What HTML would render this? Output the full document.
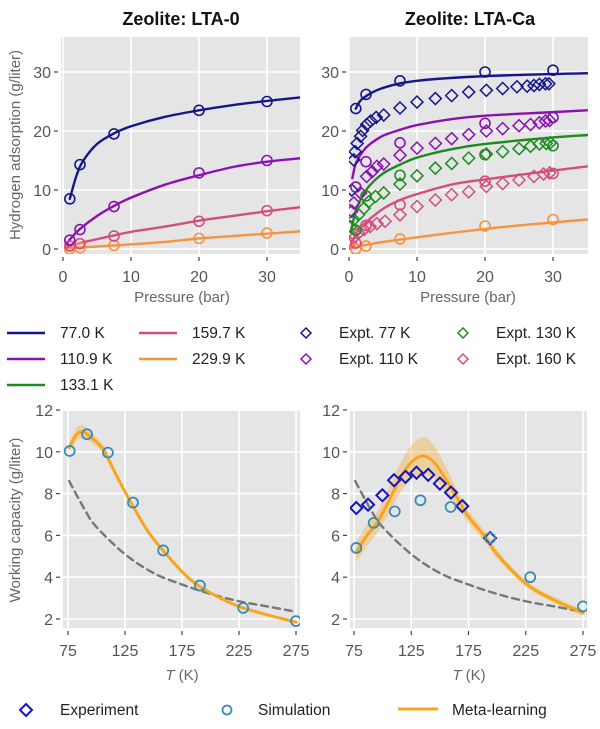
<!DOCTYPE html>
<html><head><meta charset="utf-8"><style>
body{margin:0;background:#fff;}
svg{display:block;font-family:"Liberation Sans",Arial,sans-serif;}
.tk{font-size:16px;fill:#555;}
.ax{font-size:15px;fill:#666;}
.lg{font-size:15.5px;fill:#222;}
</style></head><body>
<svg id="c" width="600" height="729" viewBox="0 0 600 729"></svg>
<script>
// ---------- data ----------
const simP = [1, 2.5, 7.5, 20, 30];
const lta0Sim77 = [8.5, 14.3, 19.5, 23.5, 25.0];
const lta0Sim111 = [1.5, 3.3, 7.2, 12.9, 15.0];
const lta0Sim160 = [0.5, 0.9, 2.2, 4.7, 6.5];
const lta0Sim230 = [0.0, 0.2, 0.6, 1.8, 2.7];
const lta0Curve77 = [[1,8.5],[2,12.5],[3,15],[5,17.8],[7.5,19.6],[10,20.8],[15,22.4],[20,23.5],[25,24.4],[30,25.1],[35,25.7]];
const lta0Curve111 = [[0.5,0.8],[1,1.6],[2.5,3.4],[5,5.6],[7.5,7.3],[10,8.7],[15,10.9],[20,12.5],[25,13.9],[30,14.8],[35,15.4]];
const lta0Curve160 = [[0.5,0.3],[2.5,1.0],[7.5,2.3],[10,2.9],[15,3.8],[20,4.8],[25,5.6],[30,6.4],[35,7.1]];
const lta0Curve230 = [[0.5,0.1],[7.5,0.6],[15,1.2],[20,1.8],[25,2.2],[30,2.6],[35,3.0]];

const caSim77 = [23.8, 26.2, 28.5, 30.0, 30.3];
const caSim110 = [10.5, 14.8, 18.0, 21.3, 22.3];
const caSim130 = [3.2, 9.0, 12.5, 16.0, 17.5];
const caSim160 = [1.0, 4.0, 7.5, 11.5, 12.8];
const caSim230 = [0.0, 0.5, 1.7, 3.9, 5.0];
const caCurve77 = [[1,23.8],[2,25.5],[5,27.3],[10,28.5],[20,29.3],[35,29.8]];
const caCurve110 = [[0.5,12],[1,14.5],[2,16.5],[3,17.7],[5,19.2],[7.5,20.2],[10,21],[15,22],[20,22.6],[30,23.2],[35,23.5]];
const caCurve130 = [[0.3,3],[1,6.5],[2,9],[3,10.7],[5,12.8],[7.5,14.3],[10,15.5],[15,16.9],[20,17.8],[30,18.9],[35,19.3]];
const caCurve160 = [[0.2,0.5],[1,2.5],[2,4],[5,6.8],[7.5,8.3],[10,9.3],[15,10.9],[20,11.8],[30,13.3],[35,14]];
const caCurve230 = [[0,0],[2.5,0.7],[7.5,1.6],[20,3.4],[30,4.5],[35,5]];
const expt77 = [[0.4,10],[0.7,15.1],[0.9,16.5],[1.2,17.9],[1.7,19.1],[2,20.1],[2.6,21.1],[3.2,21.7],[4,22.3],[5.1,22.7],[7.5,23.9],[10,24.9],[12.7,25.5],[15.1,26],[17.6,26.6],[20.2,26.9],[22.6,27.2],[24.7,27.5],[26.2,27.6],[27.2,27.7],[28,27.9],[28.9,28],[29.4,28]];
const expt110 = [[0.4,6.4],[0.7,7.8],[1.7,9.5],[2.6,12.3],[3.4,13.1],[4.1,14],[5.1,14.4],[7.5,15.9],[10,17.1],[12.7,17.9],[15.1,18.7],[17.6,19.4],[20.2,20],[22.6,20.4],[25,20.9],[26.7,21.1],[28,21.4],[28.9,21.7],[29.5,21.8]];
const expt130 = [[0.2,3.8],[0.7,5],[1.4,5.8],[2.2,6.9],[2.9,8],[3.9,8.9],[5.1,9.5],[7.5,11],[10,12.4],[12.7,13.7],[15.1,14.5],[17.6,15.4],[20.2,16.1],[22.6,16.5],[25,17],[26.7,17.4],[28,17.8],[29,17.9],[29.6,18]];
const expt160 = [[0.2,1],[0.7,1.9],[1.4,2.7],[2.2,3.3],[3.1,3.8],[4.1,4.3],[5.3,4.7],[7.5,5.8],[10,7.2],[12.7,8.3],[15.1,9.2],[17.6,9.7],[20.2,10.6],[22.6,11.1],[25,11.7],[27.2,12.3],[28.6,12.7],[29.5,12.9]];

const wcSimL = [[76.5,10.04],[91.7,10.84],[110,9.96],[132,7.57],[158.5,5.28],[190.7,3.6],[228.7,2.53],[275,1.9]];
const wcMetaL = [[76,10.2],[82,10.8],[88,10.95],[95,10.7],[105,10.2],[110,9.7],[120,8.6],[132,7.4],[145,6.2],[158,5.3],[180,4.0],[200,3.25],[225,2.6],[250,2.2],[275,1.85]];
const wcBandL = [0.2,0.3,0.3,0.25,0.2,0.15,0.15,0.1,0.1,0.1,0.1,0.05,0.05,0.05,0.05];
const wcDash = [[76,8.6],[90,7.2],[100,6.4],[125,5.1],[150,4.2],[175,3.65],[200,3.2],[225,2.85],[250,2.6],[275,2.35]];
const wcExpR = [[77,7.31],[87.3,7.47],[99.8,7.92],[110,8.64],[120,8.8],[129.6,9.0],[139.8,8.9],[150,8.48],[159.7,8.05],[169.6,7.4],[193.8,5.87]];
const wcSimR = [[77,5.4],[92.2,6.6],[110.6,7.15],[133,7.68],[159.4,7.36],[193.8,5.87],[228.9,4.0],[275,2.6]];
const wcMetaR = [[77,5.2],[85,5.9],[95,6.6],[105,7.6],[115,8.7],[125,9.5],[135,9.8],[145,9.5],[155,8.7],[165,7.8],[175,6.9],[190,5.9],[200,5.1],[225,3.7],[250,2.9],[275,2.3]];
const wcBandR = [0.5,0.5,0.5,0.6,0.7,0.8,0.9,0.8,0.6,0.4,0.3,0.25,0.2,0.15,0.15,0.15];
const pTicks = [0,10,20,30];
const qTicks = [0,10,20,30];
const tTicks = [75,125,175,225,275];
const wTicks = [2,4,6,8,10,12];

const C77='#16168a',C110='#8a12b2',C130='#1f8a1f',C160='#d24f7c',C230='#f7923f',META='#f7a51c',SIM='#3b8bb8';
// ---------- helpers ----------
const svg=document.getElementById('c');const NS='http://www.w3.org/2000/svg';
function mk(tag,attrs,parent,name){const e=document.createElementNS(NS,tag);for(const k in attrs)e.setAttribute(k,attrs[k]);


(parent||svg).appendChild(e);return e;}
function smooth(pts){if(pts.length<2)return '';let d='M'+pts[0][0]+','+pts[0][1];
for(let i=0;i<pts.length-1;i++){const p0=pts[i-1]||pts[i],p1=pts[i],p2=pts[i+1],p3=pts[i+2]||p2;
const c1x=p1[0]+(p2[0]-p0[0])/6,c1y=p1[1]+(p2[1]-p0[1])/6,c2x=p2[0]-(p3[0]-p1[0])/6,c2y=p2[1]-(p3[1]-p1[1])/6;
d+=' C'+c1x+','+c1y+' '+c2x+','+c2y+' '+p2[0]+','+p2[1];}return d;}
function panel(o){
  const g=mk('g',{},svg,o.name);
  const sx=v=>o.x0+(v-o.xd[0])/(o.xd[1]-o.xd[0])*(o.x1-o.x0);
  const sy=v=>o.y0-(v-o.yd[0])/(o.yd[1]-o.yd[0])*(o.y0-o.y1);
  mk('rect',{x:o.L,y:o.T,width:o.R-o.L,height:o.B-o.T,fill:'#e5e5e5'},g,'plot-background');
  o.xt.forEach(t=>{mk('line',{x1:sx(t),x2:sx(t),y1:o.T,y2:o.B,stroke:'#fff','stroke-width':1.6},g,'x-gridline');
    mk('line',{x1:sx(t),x2:sx(t),y1:o.B+3,y2:o.B+7,stroke:'#444','stroke-width':1.2},g,'x-tick');
    const tx=mk('text',{x:sx(t),y:o.B+28,'text-anchor':'middle',class:'tk'},g,'x-tick-label');tx.textContent=t;});
  o.yt.forEach(t=>{mk('line',{x1:o.L,x2:o.R,y1:sy(t),y2:sy(t),stroke:'#fff','stroke-width':1.6},g,'y-gridline');
    mk('line',{x1:o.L-7,x2:o.L-3,y1:sy(t),y2:sy(t),stroke:'#444','stroke-width':1.2},g,'y-tick');
    const tx=mk('text',{x:o.L-10,y:sy(t)+6,'text-anchor':'end',class:'tk'},g,'y-tick-label');tx.textContent=t;});
  const cp=mk('clipPath',{id:o.name+'-clip'},g,'clip');mk('rect',{x:o.L,y:o.T,width:o.R-o.L,height:o.B-o.T},cp,'clip-rect');
  const inner=mk('g',{'clip-path':'url(#'+o.name+'-clip)'},g,'plot-marks');
  return {g:inner,sx,sy};
}
function curve(p,pts,col,w,name,dash){const e=mk('path',{d:smooth(pts.map(q=>[p.sx(q[0]),p.sy(q[1])])),fill:'none',stroke:col,'stroke-width':w,'stroke-linecap':'round'},p.g,name);if(dash)e.setAttribute('stroke-dasharray',dash);}
function band(p,pts,w,col,op,name){const up=pts.map((q,i)=>[p.sx(q[0]),p.sy(q[1]+w[i])]),lo=pts.map((q,i)=>[p.sx(q[0]),p.sy(q[1]-w[i])]).reverse();
const d=smooth(up)+' L'+lo[0][0]+','+lo[0][1]+smooth(lo).slice(smooth(lo).indexOf(' C'))+' Z';mk('path',{d:d,fill:col,opacity:op},p.g,name);}
function circles(p,xs,ys,col,name){xs.forEach((x,i)=>mk('circle',{cx:p.sx(x),cy:p.sy(ys[i]),r:5,fill:'none',stroke:col,'stroke-width':1.6},p.g,name));}
function circlesXY(p,pts,col,name){pts.forEach(q=>mk('circle',{cx:p.sx(q[0]),cy:p.sy(q[1]),r:5,fill:'none',stroke:col,'stroke-width':1.8},p.g,name));}
function diamonds(p,pts,col,name,s,w){s=s||6;pts.forEach(q=>{const x=p.sx(q[0]),y=p.sy(q[1]);mk('path',{d:`M${x},${y-s}L${x+s},${y}L${x},${y+s}L${x-s},${y}Z`,fill:'none',stroke:col,'stroke-width':w||1.5},p.g,name);});}
function txt(x,y,s,cls,name,extra){const t=mk('text',Object.assign({x:x,y:y,class:cls},extra||{}),svg,name);t.textContent=s;return t;}

// ---------- titles ----------
txt(181,25,'Zeolite: LTA-0','','title-lta-0',{'text-anchor':'middle','font-size':'18','font-weight':'bold',fill:'#111'});
txt(470,25,'Zeolite: LTA-Ca','','title-lta-ca',{'text-anchor':'middle','font-size':'18','font-weight':'bold',fill:'#111'});

// ---------- top left ----------
let p=panel({name:'isotherm-lta-0',L:61,R:300,T:37,B:254,x0:63,x1:267,xd:[0,30],y0:249,y1:72,yd:[0,30],xt:pTicks,yt:qTicks});
curve(p,lta0Curve230,C230,2.4,'curve-229-9k');curve(p,lta0Curve160,C160,2.4,'curve-159-7k');
curve(p,lta0Curve111,C110,2.4,'curve-110-9k');curve(p,lta0Curve77,C77,2.4,'curve-77-0k');
circles(p,simP,lta0Sim230,C230,'sim-229-9k');circles(p,simP,lta0Sim160,C160,'sim-159-7k');
circles(p,simP,lta0Sim111,C110,'sim-110-9k');circles(p,simP,lta0Sim77,C77,'sim-77-0k');
// ---------- top right ----------
p=panel({name:'isotherm-lta-ca',L:349,R:588,T:37,B:254,x0:349,x1:553,xd:[0,30],y0:249,y1:72,yd:[0,30],xt:pTicks,yt:qTicks});
curve(p,caCurve230,C230,2.4,'curve-229-9k');curve(p,caCurve160,C160,2.4,'curve-159-7k');
curve(p,caCurve130,C130,2.4,'curve-133-1k');curve(p,caCurve110,C110,2.4,'curve-110-9k');curve(p,caCurve77,C77,2.4,'curve-77-0k');
diamonds(p,expt160,C160,'expt-160k');diamonds(p,expt130,C130,'expt-130k');diamonds(p,expt110,C110,'expt-110k');diamonds(p,expt77,C77,'expt-77k');
circles(p,simP,caSim230,C230,'sim-229-9k');circles(p,simP,caSim160,C160,'sim-159-7k');circles(p,simP,caSim130,C130,'sim-133-1k');
circles(p,simP,caSim110,C110,'sim-110-9k');circles(p,simP,caSim77,C77,'sim-77-0k');
txt(182,302,'Pressure (bar)','ax','x-axis-title-left',{'text-anchor':'middle'});
txt(468,302,'Pressure (bar)','ax','x-axis-title-right',{'text-anchor':'middle'});
txt(0,0,'Hydrogen adsorption (g/liter)','ax','y-axis-title-top',{'text-anchor':'middle',transform:'translate(20,145) rotate(-90)'});

// ---------- legend ----------
const lgLines=[[7,333,C77,'77.0 K'],[7,359,C110,'110.9 K'],[7,385,C130,'133.1 K'],[139,333,C160,'159.7 K'],[139,359,C230,'229.9 K']];
lgLines.forEach(l=>{mk('line',{x1:l[0],x2:l[0]+38,y1:l[1],y2:l[1],stroke:l[2],'stroke-width':2.6},svg,'legend-line');txt(l[0]+53,l[1]+5,l[3],'lg','legend-label');});
const lgDia=[[306,333,C77,'Expt. 77 K'],[306,359,C110,'Expt. 110 K'],[463,333,C130,'Expt. 130 K'],[463,359,C160,'Expt. 160 K']];
lgDia.forEach(l=>{const x=l[0],y=l[1],s=5;mk('path',{d:`M${x},${y-s}L${x+s},${y}L${x},${y+s}L${x-s},${y}Z`,fill:'none',stroke:l[2],'stroke-width':1.5},svg,'legend-diamond');txt(x+33,y+5,l[3],'lg','legend-label');});

// ---------- bottom left ----------
p=panel({name:'capacity-lta-0',L:63,R:300,T:411,B:628,x0:68,x1:296,xd:[75,275],y0:619,y1:410,yd:[2,12],xt:tTicks,yt:wTicks});
curve(p,wcDash,'#777',2.4,'dashed-reference','7,5');
band(p,wcMetaL,wcBandL,META,0.35,'meta-band');
curve(p,wcMetaL,META,3,'meta-learning-curve');
circlesXY(p,wcSimL,SIM,'simulation-point');
// ---------- bottom right ----------
p=panel({name:'capacity-lta-ca',L:350,R:587,T:411,B:628,x0:354,x1:583,xd:[75,275],y0:619,y1:410,yd:[2,12],xt:tTicks,yt:wTicks});
band(p,wcMetaR,wcBandR,META,0.35,'meta-band');
curve(p,wcDash,'#777',2.4,'dashed-reference','7,5');
curve(p,wcMetaR,META,3,'meta-learning-curve');
diamonds(p,wcExpR,'#1414c0','experiment-point',6,2);
circlesXY(p,wcSimR,SIM,'simulation-point');
txt(0,0,'Working capacity (g/liter)','ax','y-axis-title-bottom',{'text-anchor':'middle',transform:'translate(20,520) rotate(-90)'});
[182,469].forEach(x=>{const t=txt(x,680,'','ax','x-axis-title-t',{'text-anchor':'middle'});
 const a=document.createElementNS(NS,'tspan');a.setAttribute('font-style','italic');a.textContent='T';t.appendChild(a);
 const b=document.createElementNS(NS,'tspan');b.textContent=' (K)';t.appendChild(b);});

// ---------- bottom legend ----------
mk('path',{d:'M26,704L32,710L26,716L20,710Z',fill:'none',stroke:'#1414c0','stroke-width':2},svg,'legend-experiment-marker');
txt(60,715,'Experiment','lg','legend-experiment-label');
mk('circle',{cx:227,cy:710,r:4.5,fill:'none',stroke:SIM,'stroke-width':1.8},svg,'legend-simulation-marker');
txt(258,715,'Simulation','lg','legend-simulation-label');
mk('line',{x1:398,x2:438,y1:709,y2:709,stroke:META,'stroke-width':3},svg,'legend-meta-line');
txt(452,715,'Meta-learning','lg','legend-meta-label');
</script>
</body></html>
